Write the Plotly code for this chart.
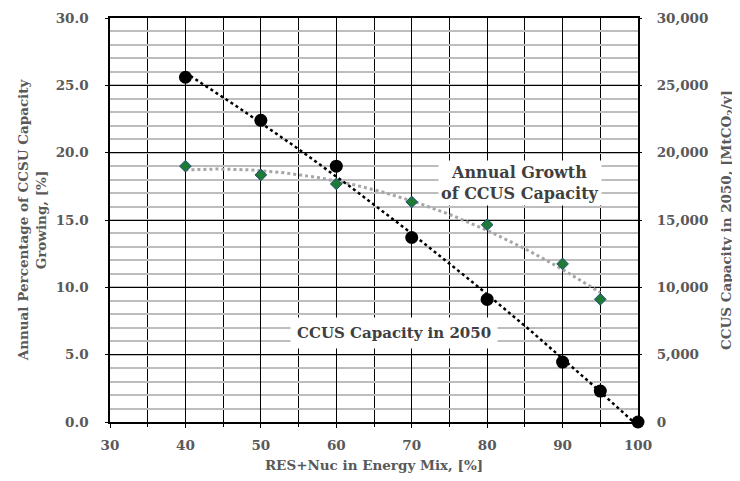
import numpy as np
import plotly.graph_objects as go

# Data
res_nuc = [40, 50, 60, 70, 80, 90, 95, 100]
ccus_capacity_2050 = [25600, 22400, 19000, 13700, 9100, 4450, 2300, 0]  # MtCO2/y (right axis)
growth_x = [40, 50, 60, 70, 80, 90, 95]
annual_growth = [19.0, 18.35, 17.68, 16.34, 14.65, 11.74, 9.11]  # % (left axis)

x_ticks = [30, 40, 50, 60, 70, 80, 90, 100]
y_ticks = [0, 5, 10, 15, 20, 25, 30]
y2_ticks = [0, 5000, 10000, 15000, 20000, 25000, 30000]

FONT = "DejaVu Serif"
GREY = "#595959"

# Polynomial (order 2) trendlines, as in the original spreadsheet chart
cap_fit = np.poly1d(np.polyfit(res_nuc, ccus_capacity_2050, 2))
gr_fit = np.poly1d(np.polyfit(growth_x, annual_growth, 2))
tx_cap = np.linspace(min(res_nuc), max(res_nuc), 100)
tx_gr = np.linspace(min(growth_x), max(growth_x), 100)

fig = go.Figure()

fig.add_trace(go.Scatter(x=tx_gr, y=gr_fit(tx_gr), mode="lines",
                         line=dict(color="#a6a6a6", width=3, dash="dot"),
                         showlegend=False, hoverinfo="skip"))
fig.add_trace(go.Scatter(x=tx_cap, y=cap_fit(tx_cap), mode="lines", yaxis="y2",
                         line=dict(color="#000000", width=2.5, dash="dot"),
                         showlegend=False, hoverinfo="skip"))
fig.add_trace(go.Scatter(x=growth_x, y=annual_growth, mode="markers", cliponaxis=False,
                         marker=dict(symbol="diamond", size=9, color="#1f7a35",
                                     line=dict(color="#1f4e79", width=1)),
                         name="Annual Growth of CCUS Capacity", showlegend=False))
fig.add_trace(go.Scatter(x=res_nuc, y=ccus_capacity_2050, mode="markers", yaxis="y2",
                         cliponaxis=False,
                         marker=dict(symbol="circle", size=13, color="#000000"),
                         name="CCUS Capacity in 2050", showlegend=False))

axis_font = dict(family=FONT, size=13.5, color=GREY)
tick_font = dict(family=FONT, size=13.5, color=GREY)

# the page body has an 8px margin, so the margins are shifted to compensate
fig.update_layout(
    width=740, height=481,
    margin=dict(l=102, r=110, t=10, b=67, autoexpand=False),
    paper_bgcolor="white", plot_bgcolor="white",
    font=dict(family=FONT, color=GREY),
    xaxis=dict(range=[30, 100], tickvals=x_ticks, ticktext=[f"<b>{v}</b>" for v in x_ticks],
               showgrid=True, gridcolor="#000000", gridwidth=1,
               minor=dict(dtick=5, showgrid=True, gridcolor="#000000", gridwidth=1,
                          ticks="outside", ticklen=3, tickcolor="#000000"),
               ticks="outside", ticklen=4, tickcolor="#000000",
               ticklabelstandoff=6,
               showline=True, linecolor="#000000", linewidth=1.5, mirror=True,
               zeroline=False, tickfont=tick_font,
               title=dict(text="<b>RES+Nuc in Energy Mix, [%]</b>",
                          font=dict(family=FONT, size=13.5, color=GREY), standoff=9)),
    yaxis=dict(range=[0, 30], tickvals=y_ticks, ticktext=[f"<b>{v:.1f}</b>" for v in y_ticks],
               showgrid=True, gridcolor="#000000", gridwidth=1.2,
               minor=dict(dtick=1, showgrid=True, gridcolor="#bdbdbd", gridwidth=1.5),
               ticks="outside", ticklen=3, tickcolor="#000000",
               ticklabelstandoff=14,
               showline=True, linecolor="#000000", linewidth=1.5, mirror=True,
               zeroline=False, tickfont=tick_font,
               title=dict(text="<b>Annual Percentage of CCSU Capacity<br>Growing, [%]</b>",
                          font=axis_font, standoff=6)),
    yaxis2=dict(range=[0, 30000], tickvals=y2_ticks,
                ticktext=[f"<b>{v:,}</b>" for v in y2_ticks],
                overlaying="y", side="right", showgrid=False, zeroline=False,
                ticks="outside", ticklen=3, tickcolor="#000000",
                ticklabelstandoff=12, tickfont=tick_font,
                title=dict(text="<b>CCUS Capacity in 2050, [MtCO<sub>2</sub>/y]</b>",
                           font=axis_font, standoff=14)),
    annotations=[
        dict(x=84.4, y=17.77, xref="x", yref="y", showarrow=False,
             text="<b>Annual Growth<br>of CCUS Capacity</b>",
             font=dict(family=FONT, size=16, color="#404040"),
             bgcolor="white", borderpad=2, align="center"),
        dict(x=67.7, y=6.6, xref="x", yref="y", showarrow=False,
             text="<b>CCUS Capacity in 2050</b>",
             font=dict(family=FONT, size=15, color="#404040"),
             bgcolor="white", borderpad=6, align="center"),
    ],
)

fig.write_html("out.html")
